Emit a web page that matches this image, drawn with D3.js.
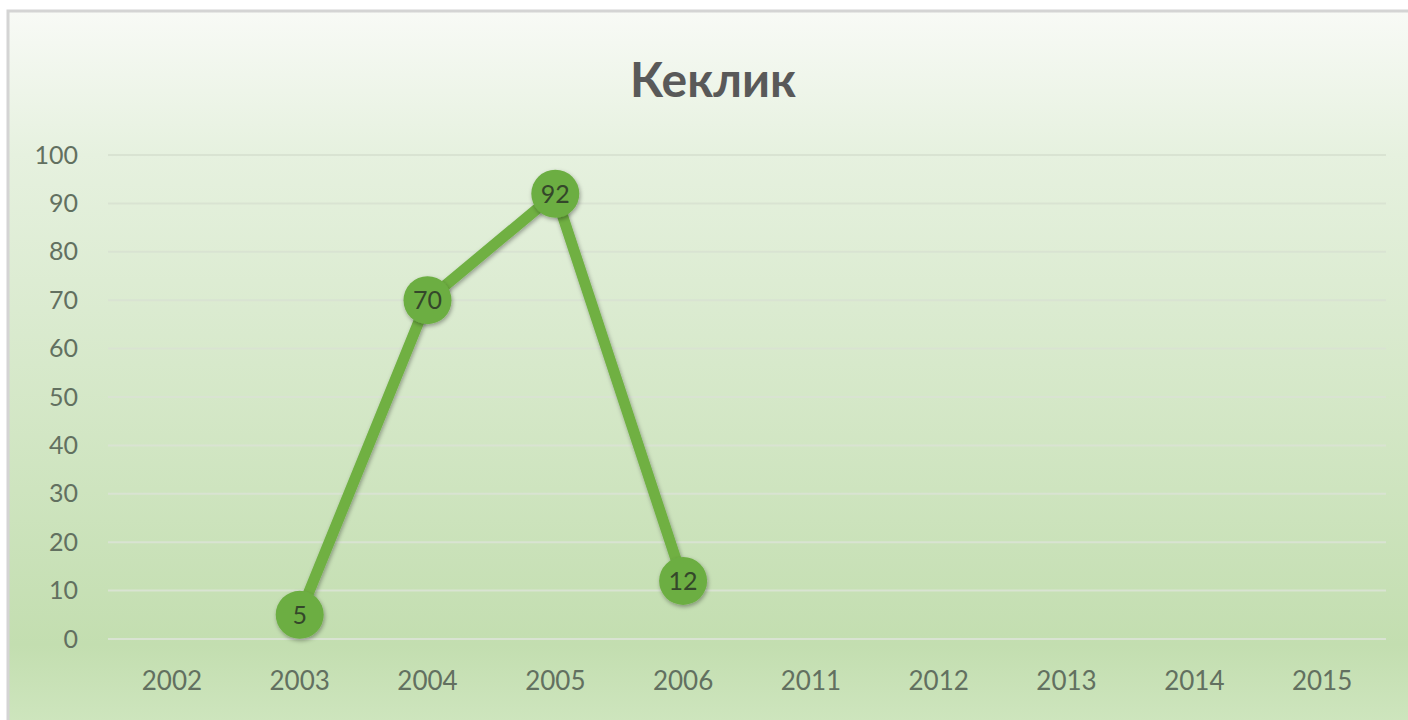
<!DOCTYPE html>
<html>
<head>
<meta charset="utf-8">
<script src="https://cdn.jsdelivr.net/npm/d3@7"></script>
<style>
  body { margin: 0; background: #fff; }
  svg { display: block; font-family: Lato, "Open Sans", sans-serif; }
</style>
</head>
<body>
<div id="chart"></div>
<script>
const title = "Кеклик";
const years = ["2002", "2003", "2004", "2005", "2006", "2011", "2012", "2013", "2014", "2015"];
const values = [null, 5, 70, 92, 12, null, null, null, null, null];
const yTicks = [0, 10, 20, 30, 40, 50, 60, 70, 80, 90, 100];

const drawChart = () => {
    const W = 1408, H = 720;
    const margin = { top: 155, right: 22, bottom: 81, left: 108 };
    const width = W - margin.left - margin.right;
    const height = H - margin.top - margin.bottom;

    const svg = d3.select("#chart").append("svg")
        .attr("width", W)
        .attr("height", H);

    const defs = svg.append("defs");
    const grad = defs.append("linearGradient")
        .attr("id", "bg")
        .attr("x1", 0).attr("y1", 0).attr("x2", 0).attr("y2", 1);
    grad.append("stop").attr("offset", "0%").attr("stop-color", "#f8faf6");
    grad.append("stop").attr("offset", "20%").attr("stop-color", "#e6f1df");
    grad.append("stop").attr("offset", "88%").attr("stop-color", "#c3deb0");
    grad.append("stop").attr("offset", "100%").attr("stop-color", "#cfe6bf");

    const shadow = defs.append("filter")
        .attr("id", "shadow")
        .attr("x", "-20%").attr("y", "-20%")
        .attr("width", "140%").attr("height", "140%");
    shadow.append("feDropShadow")
        .attr("dx", 1).attr("dy", 2)
        .attr("stdDeviation", 2)
        .attr("flood-color", "#000")
        .attr("flood-opacity", 0.35);

    // chart area with thin grey frame at top
    svg.append("rect")
        .attr("x", 8).attr("y", 11)
        .attr("width", W).attr("height", H)
        .attr("fill", "url(#bg)")
        .attr("stroke", "#d4d4d4")
        .attr("stroke-width", 3);

    svg.append("text")
        .attr("x", 713)
        .attr("y", 97)
        .attr("text-anchor", "middle")
        .attr("font-size", 48)
        .attr("font-weight", "bold")
        .attr("fill", "#595959")
        .text(title);

    const g = svg.append("g")
        .attr("transform", `translate(${margin.left}, ${margin.top})`);

    const x = d3.scaleBand().domain(years).range([0, width]);
    const y = d3.scaleLinear().domain([0, 100]).range([height, 0]);

    // gridlines
    g.append("g")
        .selectAll("line")
        .data(yTicks)
        .join("line")
        .attr("x1", 0)
        .attr("x2", width)
        .attr("y1", (d) => y(d))
        .attr("y2", (d) => y(d))
        .attr("stroke", "#d9e3d2")
        .attr("stroke-width", 2);

    const yAxis = g.append("g")
        .attr("transform", "translate(-27, 0)")
        .call(d3.axisLeft(y).tickValues(yTicks).tickSize(0));
    yAxis.select(".domain").remove();
    yAxis.selectAll("text")
        .attr("font-size", 25)
        .attr("fill", "#627060")
        .attr("font-family", "Lato, 'Open Sans', sans-serif");

    const xAxis = g.append("g")
        .attr("transform", `translate(0, ${height})`)
        .call(d3.axisBottom(x).tickSize(0));
    xAxis.select(".domain").remove();
    xAxis.selectAll("text")
        .attr("dy", "1.85em")
        .attr("font-size", 26)
        .attr("fill", "#627060")
        .attr("font-family", "Lato, 'Open Sans', sans-serif");

    const pts = years.map((yr, i) => ({ key: yr, value: values[i] }))
        .filter((d) => d.value !== null);

    const line = d3.line()
        .x((d) => x(d.key) + x.bandwidth() / 2)
        .y((d) => y(d.value));

    g.append("path")
        .datum(pts)
        .attr("fill", "none")
        .attr("stroke", "#6fb043")
        .attr("stroke-width", 11)
        .attr("stroke-linejoin", "round")
        .attr("filter", "url(#shadow)")
        .attr("d", line);

    const marks = g.append("g")
        .selectAll("g")
        .data(pts)
        .join("g")
        .attr("transform", (d) => `translate(${x(d.key) + x.bandwidth() / 2}, ${y(d.value)})`);

    marks.append("circle")
        .attr("r", 24)
        .attr("fill", "#6cae42")
        .attr("filter", "url(#shadow)");

    marks.append("text")
        .attr("text-anchor", "middle")
        .attr("dy", "0.36em")
        .attr("font-size", 25)
        .attr("fill", "#34472a")
        .text((d) => d.value);
}

drawChart();
</script>
</body>
</html>
